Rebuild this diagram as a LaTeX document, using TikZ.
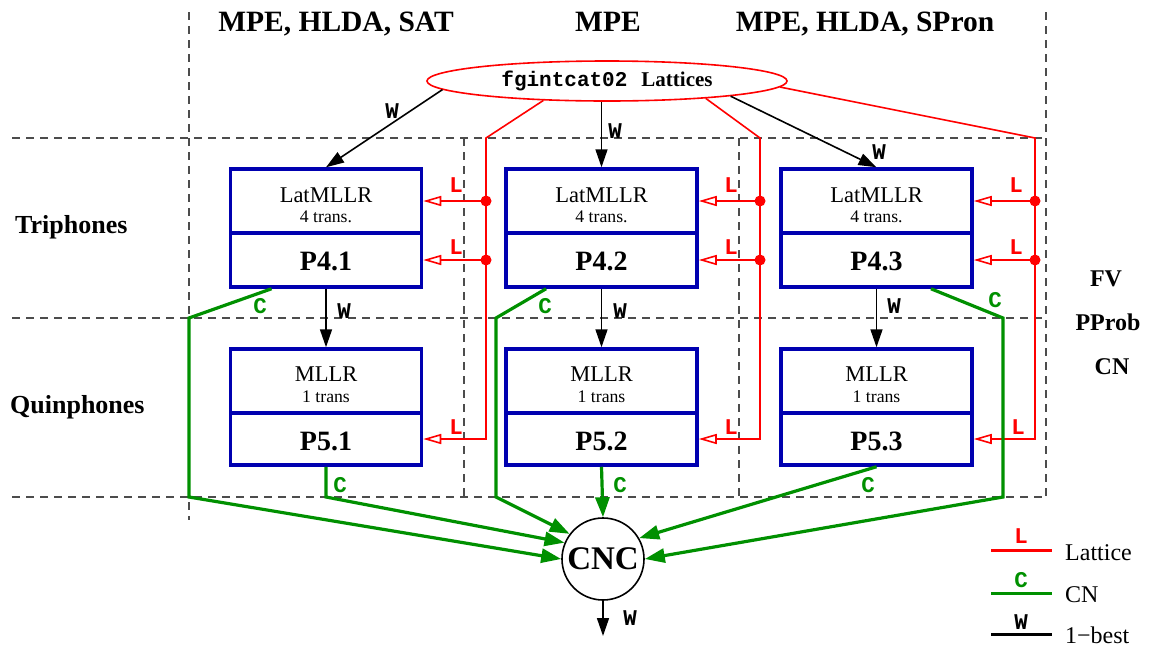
\documentclass[tikz,border=0pt]{standalone}
\usepackage{fontspec}
\setmainfont{Liberation Serif}
\setmonofont{Liberation Mono}
\usetikzlibrary{arrows.meta,calc,shapes.geometric}
\definecolor{fblue}{RGB}{0,0,176}
\definecolor{fgreen}{RGB}{0,144,0}
\definecolor{fred}{RGB}{255,0,0}
\newcommand{\myfs}[1]{\fontsize{#1}{#1}\selectfont}
\begin{document}
\begin{tikzpicture}[x=1pt,y=-1pt,
  grid/.style={dash pattern=on 8pt off 6pt, line width=1.1pt, black!70},
  part/.style={draw=fblue, line width=3.5pt, minimum width=191pt, inner sep=0pt},
  wline/.style={black, line width=1.6pt, -{Triangle[length=18pt,width=12pt]}},
  lline/.style={fred, line width=1.6pt},
  larrow/.style={lline, -{Triangle[open,length=18pt,width=10pt]}},
  cline/.style={fgreen, line width=3.2pt},
  carrow/.style={cline, -{Triangle[length=20pt,width=14pt]}},
  mlab/.style={font=\myfs{22.5}\ttfamily\bfseries, inner sep=0pt},
  wlab/.style={mlab, black},
  llab/.style={mlab, fred},
  clab/.style={mlab, fgreen},
  dot/.style={circle, fill=fred, inner sep=0pt, minimum size=11pt},
  hdr/.style={font=\myfs{29.5}\bfseries, inner sep=0pt, anchor=base},
  side/.style={font=\myfs{26}\bfseries, inner sep=0pt, anchor=base west},
  rside/.style={font=\myfs{24}\bfseries, inner sep=0pt, anchor=base},
  big/.style={font=\myfs{22.5}, inner sep=0pt, anchor=base},
  small/.style={font=\myfs{17.7}, inner sep=0pt, anchor=base},
  pname/.style={font=\myfs{28}\bfseries, inner sep=0pt, anchor=base},
  legtext/.style={font=\myfs{24}, inner sep=0pt, anchor=base west},
]
\useasboundingbox (0,0) rectangle (1154,646);

% dashed grid
\draw[grid] (189,12) -- (189,520);
\draw[grid] (1046,12) -- (1046,497);
\draw[grid] (464,138) -- (464,497);
\draw[grid] (739,138) -- (739,497);
\draw[grid] (12,138) -- (1046,138);
\draw[grid] (12,318) -- (1046,318);
\draw[grid] (12,497) -- (1046,497);

% headers
\node[hdr] (h1) at (336,31) {MPE, HLDA, SAT};
\node[hdr] (h2) at (608,31) {MPE};
\node[hdr] (h3) at (865,31) {MPE, HLDA, SPron};
\node[side] (s1) at (15,233) {Triphones};
\node[side] (s2) at (10,413) {Quinphones};
\node[rside] (r1) at (1106,286) {FV};
\node[rside] (r2) at (1108,330) {PProb};
\node[rside] (r3) at (1112,374) {CN};

% lattices ellipse
\node[ellipse, draw=fred, line width=1.6pt, minimum width=360pt, minimum height=40pt, inner sep=0pt]
  (ell) at (607,81) {\myfs{21}\texttt{\bfseries fgintcat02}\hspace{14pt}\bfseries Lattices\hspace{16pt}};

% boxes
\foreach \x/\n in {326/1, 601.5/2, 876.5/3} {
  \node[part, minimum height=64pt] (t\n) at (\x,201) {};
  \node[part, minimum height=54pt] (b\n) at (\x,260) {};
  \node[part, minimum height=64pt] (u\n) at (\x,381) {};
  \node[part, minimum height=52pt] (v\n) at (\x,439) {};
  \node[big] (tt\n) at (\x,202) {LatMLLR};
  \node[small] (ts\n) at (\x,222) {4 trans.};
  \node[pname] (bp\n) at (\x,270) {P4.\n};
  \node[big] (ut\n) at (\x,381) {MLLR};
  \node[small] (us\n) at (\x,402) {1 trans};
  \node[pname] (vp\n) at (\x,450) {P5.\n};
  \draw[wline] (b\n.south) -- (u\n.north);
}

% 1-best arrows from lattices
\draw[wline] (ell.183.7) -- (t1.north);
\draw[wline] (ell.south -| t2.north) -- (t2.north);
\draw[wline] (ell.353.95) -- (t3.north);
\node[wlab] (w1) at (392,111) {W};
\node[wlab] (w2) at (615,131) {W};
\node[wlab] (w3) at (879,152) {W};
\node[wlab] (w4) at (344,311) {W};
\node[wlab] (w5) at (620,311) {W};
\node[wlab] (w6) at (894,306) {W};

% lattice lines
\coordinate (ra) at (486,138);
\coordinate (rb) at (760,138);
\coordinate (rc) at (1035,138);
\draw[larrow] (ell.197.85) -- (ra) |- (v1.east);
\draw[larrow] (ell.350.45) -- (rb) |- (v2.east);
\draw[larrow] (ell.358.4) -- (rc) |- (v3.east);
\foreach \c/\n in {ra/1, rb/2, rc/3} {
  \node[dot] (da\n) at (\c |- t\n.east) {};
  \node[dot] (db\n) at (\c |- b\n.east) {};
  \draw[larrow] (da\n.center) -- (t\n.east);
  \draw[larrow] (db\n.center) -- (b\n.east);
}
\node[llab] (l1) at (456,185) {L};
\node[llab] (l2) at (456,247) {L};
\node[llab] (l3) at (456,427) {L};
\node[llab] (l4) at (731,185) {L};
\node[llab] (l5) at (731,247) {L};
\node[llab] (l6) at (731,427) {L};
\node[llab] (l7) at (1016,185) {L};
\node[llab] (l8) at (1016,247) {L};
\node[llab] (l9) at (1018,427) {L};

% CNC
\node[circle, draw, line width=1.6pt, minimum size=82pt, inner sep=0pt, font=\myfs{33}\bfseries] (cnc) at (603,559) {CNC};
\coordinate (out) at (603,636);
\draw[wline] (cnc.south) -- (out);
\node[wlab] (w7) at (630,618) {W};

% CN lines
\coordinate (g1a) at (189,318); \coordinate (g1b) at (189,497);
\coordinate (g2a) at (496,318); \coordinate (g2b) at (496,497);
\coordinate (g3a) at (1003,318); \coordinate (g3b) at (1003,497);
\coordinate (g4a) at (326,497);
\draw[carrow] ($(b1.south west)!0.22!(b1.south east)$) -- (g1a) -- (g1b) -- (cnc.180);
\draw[carrow] ($(b2.south west)!0.215!(b2.south east)$) -- (g2a) -- (g2b) -- (cnc.143);
\draw[carrow] ($(b3.south west)!0.78!(b3.south east)$) -- (g3a) -- (g3b) -- (cnc.0);
\draw[carrow] (v1.south) -- (g4a) -- (cnc.157);
\draw[carrow] (v2.south) -- (cnc.north);
\draw[carrow] (v3.south) -- (cnc.30);
\node[clab] (c1) at (260,306) {C};
\node[clab] (c2) at (545,306) {C};
\node[clab] (c3) at (995,300) {C};
\node[clab] (c4) at (340,485) {C};
\node[clab] (c5) at (620,485) {C};
\node[clab] (c6) at (868,485) {C};

% legend
\coordinate (la1) at (991,550); \coordinate (la2) at (1052,550);
\coordinate (lb1) at (991,593); \coordinate (lb2) at (1052,593);
\coordinate (lc1) at (991,634); \coordinate (lc2) at (1052,634);
\draw[fred, line width=3pt] (la1) -- (la2);
\draw[fgreen, line width=3pt] (lb1) -- (lb2);
\draw[black, line width=3pt] (lc1) -- (lc2);
\node[llab, anchor=base] (lgl) at (1021,543) {L};
\node[clab, anchor=base] (lgc) at (1021,587) {C};
\node[wlab, anchor=base] (lgw) at (1021,629) {W};
\node[legtext] (lt1) at (1065,560) {Lattice};
\node[legtext] (lt2) at (1065,602) {CN};
\node[legtext] (lt3) at (1065,643) {1−best};
\end{tikzpicture}
\end{document}
